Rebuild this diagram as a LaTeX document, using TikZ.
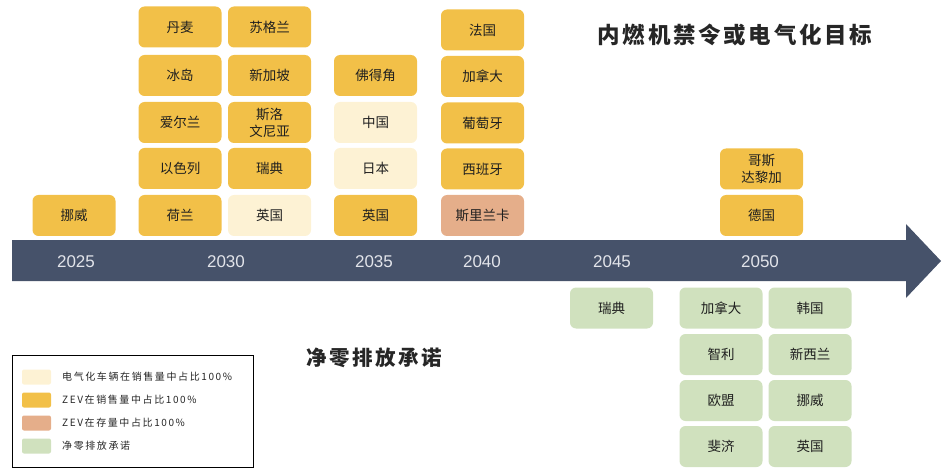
\documentclass[tikz,border=0pt]{standalone}
\usepackage{fontspec}
\setmainfont{Liberation Sans}
\newfontfamily\cjk{Noto Sans CJK SC}
\newfontfamily\cjktitle[LetterSpace=12]{Noto Sans CJK SC}
\newfontfamily\cjklegend[LetterSpace=16]{Noto Sans CJK SC}
\definecolor{zevY}{RGB}{242,192,72}
\definecolor{evC}{RGB}{253,242,212}
\definecolor{stockS}{RGB}{229,174,138}
\definecolor{netG}{RGB}{208,225,190}
\definecolor{band}{RGB}{70,82,106}
\definecolor{yeartxt}{RGB}{226,228,234}
\begin{document}
\begin{tikzpicture}[x=1pt,y=-1pt,
  box/.style={rounded corners=6pt, minimum width=83pt, minimum height=41pt, inner sep=0pt,
    align=center, font=\cjk\fontsize{13.5}{17}\selectfont, text=black!88},
  yb/.style={box, fill=zevY},
  cb/.style={box, fill=evC},
  sb/.style={box, fill=stockS},
  gb/.style={box, fill=netG},
  yr/.style={font=\fontsize{17}{20}\selectfont, text=yeartxt},
  sw/.style={rounded corners=2pt, minimum width=29pt, minimum height=15pt, inner sep=0pt},
  lt/.style={anchor=west, font=\cjklegend\fontsize{10}{12}\selectfont, text=black!85, inner sep=0pt}]
\useasboundingbox (0,0) rectangle (946,468);
% timeline arrow
\fill[band] (12,240) -- (906,240) -- (906,224) -- (941,261) -- (906,298) -- (906,281) -- (12,281) -- cycle;
\node[yr] (y2025) at (76,262) {2025};
\node[yr] (y2030) at (226,262) {2030};
\node[yr] (y2035) at (374,262) {2035};
\node[yr] (y2040) at (482,262) {2040};
\node[yr] (y2045) at (612,262) {2045};
\node[yr] (y2050) at (760,262) {2050};
% titles
\node[font=\cjktitle\fontsize{22.5}{26}\selectfont\bfseries, text=black!85] (t1) at (735,35) {内燃机禁令或电气化目标};
\node[font=\cjktitle\fontsize{20.5}{24}\selectfont\bfseries, text=black!85] (t2) at (374,358) {净零排放承诺};
% 2025
\node[yb] (a1) at (74,215.5) {挪威};
% 2030 col 1
\node[yb] (b1) at (180,27) {丹麦};
\node[yb] (b2) at (180,75.5) {冰岛};
\node[yb] (b3) at (180,122.5) {爱尔兰};
\node[yb] (b4) at (180,168.5) {以色列};
\node[yb] (b5) at (180,215.5) {荷兰};
% 2030 col 2
\node[yb] (c1) at (269.5,27) {苏格兰};
\node[yb] (c2) at (269.5,75.5) {新加坡};
\node[yb] (c3) at (269.5,122.5) {斯洛\\文尼亚};
\node[yb] (c4) at (269.5,168.5) {瑞典};
\node[cb] (c5) at (269.5,215.5) {英国};
% 2035
\node[yb] (d2) at (375.5,75.5) {佛得角};
\node[cb] (d3) at (375.5,122.5) {中国};
\node[cb] (d4) at (375.5,168.5) {日本};
\node[yb] (d5) at (375.5,215.5) {英国};
% 2040
\node[yb] (e1) at (482.5,30) {法国};
\node[yb] (e2) at (482.5,76.5) {加拿大};
\node[yb] (e3) at (482.5,123) {葡萄牙};
\node[yb] (e4) at (482.5,169) {西班牙};
\node[sb] (e5) at (482.5,215.5) {斯里兰卡};
% 2050
\node[yb] (f4) at (761.5,169) {哥斯\\达黎加};
\node[yb] (f5) at (761.5,215.5) {德国};
% net zero
\node[gb] (g1) at (611.5,308) {瑞典};
\node[gb] (h1) at (721,308) {加拿大};
\node[gb] (h2) at (721,354.5) {智利};
\node[gb] (h3) at (721,400.5) {欧盟};
\node[gb] (h4) at (721,446.5) {斐济};
\node[gb] (i1) at (810,308) {韩国};
\node[gb] (i2) at (810,354.5) {新西兰};
\node[gb] (i3) at (810,400.5) {挪威};
\node[gb] (i4) at (810,446.5) {英国};
% legend
\node[draw=black, line width=1pt, minimum width=241pt, minimum height=112pt, inner sep=0pt] (leg) at (132.5,411) {};
\node[sw, fill=evC] (s1) at (36.5,377) {};
\node[sw, fill=zevY] (s2) at (36.5,400) {};
\node[sw, fill=stockS] (s3) at (36.5,423) {};
\node[sw, fill=netG] (s4) at (36.5,446) {};
\node[lt] (l1) at (62,377) {电气化车辆在销售量中占比100\%};
\node[lt] (l2) at (62,400) {ZEV在销售量中占比100\%};
\node[lt] (l3) at (62,423) {ZEV在存量中占比100\%};
\node[lt] (l4) at (62,446) {净零排放承诺};
\end{tikzpicture}
\end{document}
